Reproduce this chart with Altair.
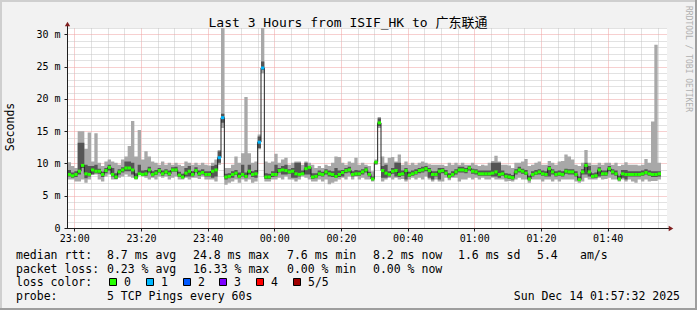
import altair as alt
import pandas as pd

# ---------------- data ----------------
# sample end time in minutes after 23:00 (one sample per minute)
minutes = list(range(-2, 177))

median_ms = [
    9.0, 8.3, 8.1, 8.3, 8.8, 9.7, 8.4, 8.3, 9.0, 8.8,
    8.8, 8.3, 8.9, 9.4, 8.3, 7.9, 8.7, 9.0, 9.3, 9.3,
    9.0, 7.8, 8.4, 8.3, 8.4, 9.0, 8.3, 8.5, 8.9, 8.4,
    8.7, 8.4, 9.0, 9.0, 8.2, 7.9, 8.5, 8.8, 8.3, 8.9,
    8.4, 8.6, 8.3, 8.3, 8.8, 9.0, 10.9, 17.1, 7.9, 8.0,
    8.3, 8.5, 8.0, 8.3, 8.0, 8.8, 8.3, 8.4, 13.3, 24.8,
    7.9, 7.9, 8.3, 8.3, 8.9, 9.0, 8.9, 8.7, 8.8, 8.4,
    8.3, 8.4, 9.2, 9.4, 7.9, 8.0, 8.4, 8.3, 8.7, 8.4,
    8.3, 8.0, 8.3, 8.6, 8.9, 9.0, 8.3, 8.4, 8.4, 8.7,
    9.0, 8.3, 7.6, 10.2, 16.3, 8.9, 8.5, 8.3, 8.8, 8.9,
    8.3, 8.4, 8.9, 8.2, 8.4, 8.6, 8.9, 9.0, 9.2, 8.9,
    8.3, 8.3, 8.8, 8.9, 8.5, 8.0, 8.3, 8.7, 9.0, 9.0,
    8.9, 9.3, 8.8, 8.7, 8.4, 8.4, 8.4, 8.4, 8.5, 8.7,
    8.3, 8.4, 8.0, 7.9, 7.8, 8.7, 9.0, 8.8, 8.5, 7.6,
    8.3, 8.5, 8.7, 8.4, 8.3, 9.2, 8.7, 8.3, 8.4, 8.3,
    8.8, 8.7, 8.7, 8.3, 7.5, 8.7, 9.7, 8.7, 8.0, 8.1,
    9.0, 8.4, 8.4, 9.2, 8.7, 8.4, 7.6, 8.4, 8.3, 8.3,
    8.3, 8.3, 8.3, 8.4, 8.6, 8.4, 8.3, 8.3, 8.4,
]

ping_min = [
    7.5, 7.5, 7.5, 7.2, 7.2, 7.5, 7.0, 7.5, 8.3, 8.3,
    7.5, 7.2, 8.0, 8.3, 7.5, 7.5, 7.8, 8.0, 8.3, 8.0,
    7.8, 7.5, 8.3, 8.0, 7.8, 7.5, 7.8, 7.5, 8.0, 7.8,
    8.0, 7.5, 7.8, 8.0, 7.5, 7.5, 7.8, 7.5, 7.8, 7.8,
    7.6, 8.0, 7.5, 7.5, 7.5, 7.2, 9.8, 15.5, 6.7, 7.0,
    7.2, 7.5, 7.0, 7.5, 7.2, 7.5, 7.0, 7.2, 12.2, 24.0,
    7.2, 7.2, 7.5, 7.5, 7.8, 7.5, 8.0, 7.5, 7.5, 7.2,
    7.5, 8.0, 7.8, 7.5, 7.2, 7.2, 7.5, 7.2, 7.5, 6.8,
    7.0, 7.2, 7.5, 7.8, 7.5, 8.0, 7.5, 8.0, 7.5, 7.8,
    7.5, 7.5, 7.2, 9.8, 15.5, 7.2, 7.5, 7.8, 7.5, 7.8,
    7.5, 7.6, 7.2, 7.5, 7.8, 7.5, 7.8, 7.5, 8.0, 7.5,
    7.2, 7.5, 7.2, 7.2, 7.8, 7.4, 7.8, 7.8, 7.2, 7.5,
    7.5, 7.8, 7.5, 7.8, 7.5, 7.8, 7.5, 7.5, 7.8, 7.5,
    7.5, 7.5, 7.2, 7.3, 7.2, 7.5, 7.8, 7.5, 7.5, 7.0,
    7.5, 7.5, 7.5, 7.2, 7.5, 7.5, 7.2, 7.5, 7.2, 7.5,
    7.5, 7.5, 7.5, 7.2, 7.0, 7.2, 7.8, 7.5, 7.5, 7.5,
    7.8, 7.5, 7.6, 7.8, 7.5, 7.5, 7.2, 7.5, 7.2, 7.5,
    7.2, 7.0, 7.5, 7.2, 7.5, 7.2, 7.3, 7.3, 7.5,
]

ping_max = [
    10.6, 10.2, 9.6, 9.3, 15.0, 15.0, 12.3, 14.8, 10.3, 14.7,
    10.1, 9.6, 10.3, 10.6, 10.3, 10.1, 9.8, 10.6, 11.1, 12.7,
    16.6, 11.1, 15.2, 10.6, 11.9, 11.1, 10.3, 10.1, 9.8, 10.3,
    9.8, 10.1, 9.8, 10.1, 9.8, 9.6, 10.3, 10.1, 9.8, 10.1,
    9.8, 10.1, 9.8, 9.7, 10.1, 10.6, 12.1, 35.0, 9.3, 9.3,
    9.8, 11.1, 10.1, 11.6, 20.3, 11.6, 10.1, 10.3, 14.5, 35.0,
    10.3, 10.1, 10.3, 11.5, 10.1, 10.6, 10.9, 9.8, 10.1, 10.3,
    10.3, 9.8, 10.3, 10.1, 9.8, 9.3, 9.6, 9.3, 9.8, 9.6,
    10.1, 11.1, 11.0, 10.1, 9.8, 10.3, 10.1, 10.9, 9.8, 10.1,
    9.8, 9.6, 8.8, 10.6, 17.2, 11.1, 10.1, 10.9, 11.0, 10.3,
    11.4, 9.8, 10.3, 9.8, 10.1, 9.8, 10.1, 10.3, 10.1, 9.9,
    9.8, 9.8, 9.8, 9.8, 9.6, 10.1, 9.8, 10.1, 9.8, 10.1,
    9.8, 9.8, 10.1, 9.8, 9.6, 9.8, 9.7, 10.1, 10.4, 11.2,
    10.3, 9.8, 9.8, 9.7, 9.3, 10.1, 10.1, 10.3, 10.7, 9.6,
    9.8, 10.1, 10.3, 9.8, 9.8, 10.4, 10.1, 9.8, 10.3, 10.4,
    11.4, 11.1, 10.6, 9.8, 9.6, 10.1, 12.1, 10.1, 9.8, 9.8,
    10.1, 9.8, 10.1, 10.1, 9.8, 10.1, 9.6, 9.8, 10.2, 9.8,
    9.8, 9.8, 9.7, 9.8, 10.7, 10.1, 16.5, 28.4, 10.1,
]

ping_p2 = [
    8.6, 8.0, 7.8, 7.9, 8.3, 9.3, 7.7, 8.0, 8.3, 8.5,
    8.4, 7.9, 8.5, 8.9, 8.0, 7.6, 8.3, 8.6, 8.8, 8.8,
    8.3, 7.6, 8.3, 8.1, 8.1, 8.6, 8.0, 8.2, 8.6, 8.1,
    8.4, 8.1, 8.7, 8.7, 7.9, 7.7, 8.0, 8.0, 8.0, 8.6,
    8.1, 8.3, 8.0, 8.0, 7.8, 8.0, 10.1, 16.3, 7.5, 7.7,
    7.8, 8.2, 7.7, 8.0, 7.7, 8.3, 7.9, 7.8, 12.4, 24.5,
    7.6, 7.6, 7.9, 8.0, 8.6, 8.3, 8.3, 8.4, 7.8, 7.8,
    8.0, 8.2, 8.3, 8.3, 7.6, 7.7, 8.1, 8.0, 8.3, 8.0,
    7.9, 7.8, 7.9, 8.0, 8.5, 8.6, 8.0, 8.1, 8.1, 8.3,
    8.6, 8.0, 7.4, 9.9, 15.8, 7.8, 7.8, 8.0, 8.4, 8.0,
    7.9, 8.1, 7.5, 7.9, 8.1, 8.3, 8.5, 8.6, 8.8, 7.8,
    7.5, 8.0, 7.5, 8.5, 8.2, 7.7, 8.0, 8.3, 8.6, 8.6,
    8.5, 8.9, 8.4, 8.3, 8.1, 8.1, 8.1, 8.1, 8.0, 8.0,
    7.8, 8.1, 7.7, 7.6, 7.5, 8.3, 8.6, 8.4, 8.2, 7.4,
    8.0, 8.2, 8.3, 8.1, 8.0, 8.0, 8.3, 8.0, 8.1, 8.0,
    8.4, 8.3, 8.3, 8.0, 7.3, 8.3, 8.3, 8.0, 7.7, 7.8,
    8.0, 8.1, 8.1, 8.8, 8.3, 8.1, 7.4, 7.8, 7.5, 8.0,
    8.0, 8.0, 8.0, 8.1, 8.3, 8.1, 7.9, 7.9, 8.0,
]

ping_p4 = [
    9.4, 9.0, 8.6, 8.8, 13.2, 13.2, 9.8, 9.6, 9.6, 9.8,
    9.2, 8.7, 9.3, 9.8, 9.3, 8.5, 9.1, 9.4, 10.3, 10.3,
    10.1, 8.5, 9.8, 8.9, 9.0, 9.5, 8.8, 9.0, 9.3, 8.9,
    9.1, 8.9, 9.4, 9.5, 8.7, 8.4, 9.3, 9.6, 8.8, 9.4,
    8.9, 9.1, 8.8, 8.8, 9.6, 9.8, 11.9, 17.7, 8.4, 8.5,
    8.8, 9.0, 8.6, 9.8, 8.6, 9.8, 8.8, 9.0, 14.2, 25.8,
    8.5, 8.4, 8.8, 9.8, 9.3, 9.6, 9.8, 9.1, 9.3, 10.1,
    10.1, 8.9, 10.1, 9.6, 8.5, 8.5, 8.9, 8.7, 9.1, 8.9,
    8.8, 9.3, 8.9, 9.0, 9.3, 9.5, 8.8, 9.0, 8.9, 9.1,
    9.4, 8.7, 8.0, 10.4, 17.0, 9.6, 9.8, 8.8, 9.3, 10.1,
    10.1, 8.9, 9.3, 8.7, 8.9, 9.1, 9.3, 9.5, 9.6, 9.3,
    8.8, 8.8, 9.3, 9.3, 9.0, 8.5, 8.8, 9.1, 9.5, 9.5,
    9.3, 9.6, 9.2, 9.1, 8.9, 8.9, 8.9, 8.9, 10.1, 10.1,
    10.1, 8.9, 8.5, 8.4, 8.2, 9.1, 9.5, 9.2, 9.0, 8.1,
    8.8, 9.0, 9.1, 8.9, 8.8, 9.6, 9.1, 8.8, 8.9, 8.8,
    9.2, 9.1, 9.1, 8.8, 8.0, 9.1, 10.1, 9.6, 8.5, 8.6,
    9.4, 8.9, 8.9, 9.6, 9.1, 8.9, 8.1, 9.0, 9.0, 8.8,
    8.8, 8.8, 8.8, 8.9, 9.1, 8.9, 8.8, 8.8, 8.8,
]

lost_pings = [0] * 46 + [1, 1] + [0] * 10 + [1, 1] + [0] * 119

loss_labels = ["0", "1", "2", "3", "4", "5/5"]
loss_colors = ["#26ff00", "#00b8ff", "#0059ff", "#7e00ff", "#ff0000", "#a00000"]

x_major_values = [0, 20, 40, 60, 80, 100, 120, 140, 160]
x_major_labels = ["23:00", "23:20", "23:40", "00:00", "00:20", "00:40", "01:00", "01:20", "01:40"]
y_major_values = [0, 5, 10, 15, 20, 25, 30]
y_major_labels = ["0\u00a0\u00a0", "5 m", "10 m", "15 m", "20 m", "25 m", "30 m"]

title_text = "Last 3 Hours from ISIF_HK to 广东联通"
row_rtt = ["median rtt:", "8.7 ms avg", "24.8 ms max", "7.6 ms min", "8.2 ms now", "1.6 ms sd", "5.4", "am/s"]
row_loss = ["packet loss:", "0.23 % avg", "16.33 % max", "0.00 % min", "0.00 % now"]
row_color_label = "loss color:"
row_probe = ["probe:", "5 TCP Pings every 60s"]
stamp = "Sun Dec 14 01:57:32 2025"
watermark = "RRDTOOL / TOBI OETIKER"

# ---------------- tables ----------------
df = pd.DataFrame({
    "end": minutes, "med": median_ms, "lo": ping_min, "hi": ping_max,
    "p2": ping_p2, "p4": ping_p4, "loss": lost_pings,
})
df["start"] = df["end"] - 1
steps = pd.concat([df, df.tail(1).assign(start=df["end"].iloc[-1])], ignore_index=True)

FONT = "DejaVu Sans Mono"
W, H = 600, 200
xs = alt.Scale(domain=[-2.2, 177.8], nice=False, zero=False)
ys = alt.Scale(domain=[0, 31], nice=False, zero=False)
one = alt.Data(values=[{"k": 0}])

minor_x = [v for v in range(0, 180, 5) if v % 20]
minor_y = [v for v in range(0, 32) if v % 5]

lab_x = "[" + ",".join("'%s'" % s for s in x_major_labels) + "][round(datum.value/20)]"
lab_y = "[" + ",".join("'%s'" % s for s in y_major_labels) + "][round(datum.value/5)]"

outer = alt.Chart(steps).mark_area(interpolate="step-after", color="#a8a8a8", clip=True).encode(
    x=alt.X("start:Q", scale=xs, axis=alt.Axis(values=minor_x, grid=True, gridColor="#c4c4c4",
                                              gridDash=[1, 1], labels=False, ticks=False,
                                              domain=False, title=None, orient="bottom")),
    y=alt.Y("lo:Q", scale=ys, axis=alt.Axis(values=minor_y, grid=True, gridColor="#c4c4c4",
                                           gridDash=[1, 1], labels=False, ticks=False,
                                           domain=False, title=None, orient="left")),
    y2="hi:Q",
)

inner = alt.Chart(steps).mark_area(interpolate="step-after", color="#555555", clip=True).encode(
    x=alt.X("start:Q", scale=xs, axis=alt.Axis(values=x_major_values, grid=True, gridColor="#eea0a0",
                                              gridDash=[1, 1], labelExpr=lab_x, labelFont=FONT,
                                              labelFontSize=10, labelColor="#000000",
                                              labelBaseline="alphabetic", labelPadding=10,
                                              ticks=True, tickSize=3, tickColor="#1f1f1f",
                                              domain=False, title=None, orient="bottom")),
    y=alt.Y("p2:Q", scale=ys, axis=alt.Axis(values=y_major_values, grid=True, gridColor="#eea0a0",
                                           gridDash=[1, 1], labelExpr=lab_y, labelFont=FONT,
                                           labelFontSize=10, labelColor="#000000",
                                           labelPadding=4, ticks=True, tickSize=3,
                                           tickColor="#1f1f1f", domain=False, title=None,
                                           orient="left")),
    y2="p4:Q",
)

med_line = alt.Chart(steps).mark_line(interpolate="step-after", color="#202020", strokeWidth=1, clip=True).encode(
    x=alt.X("start:Q", scale=xs, axis=None),
    y=alt.Y("med:Q", scale=ys, axis=None),
)

med_mark = alt.Chart(df).mark_rule(strokeWidth=3, strokeCap="butt", clip=True).encode(
    x=alt.X("start:Q", scale=xs, axis=None),
    x2="end:Q",
    y=alt.Y("med:Q", scale=ys, axis=None),
    color=alt.Color("loss:O", scale=alt.Scale(domain=[0, 1, 2, 3, 4, 5], range=loss_colors), legend=None),
)

layers = [outer, inner, med_line, med_mark]


def hrule(x1, x2, y, color, w=1):
    return alt.Chart(one).mark_rule(color=color, strokeWidth=w).encode(
        x=alt.value(x1), x2=alt.value(x2), y=alt.value(y))


def vrule(x, y1, y2, color, w=1):
    return alt.Chart(one).mark_rule(color=color, strokeWidth=w).encode(
        x=alt.value(x), y=alt.value(y1), y2=alt.value(y2))


def txt(s, x, y, size=11.5, align="left", angle=0, color="#000000", baseline="alphabetic", font=FONT):
    return alt.Chart(one).mark_text(text=s, align=align, baseline=baseline, font=font,
                                    fontSize=size, color=color, angle=angle).encode(
        x=alt.value(x), y=alt.value(y))


# axis lines and arrows
layers.append(hrule(0, 603, 200.5, "#1f1f1f"))
layers.append(vrule(0.5, 200, -3, "#1f1f1f"))
layers.append(alt.Chart(one).mark_point(shape="triangle-up", filled=True, size=28, color="#801f1f", opacity=1).encode(
    x=alt.value(0.5), y=alt.value(-4)))
layers.append(alt.Chart(one).mark_point(shape="triangle-right", filled=True, size=28, color="#801f1f", opacity=1).encode(
    x=alt.value(604), y=alt.value(200.5)))

# title, axis title, watermark
layers.append(txt(title_text, 281, -1.5, size=13, align="center",
                  font="DejaVu Sans Mono, Noto Sans CJK SC"))
layers.append(txt("Seconds", -56, 99, size=11.5, align="center", angle=270, baseline="middle"))
layers.append(txt(watermark, 621, 31, size=8, align="center", angle=90, baseline="middle", color="#b0b0b0"))

# legend rows
r1_x = [-51, 40, 126, 220, 306, 391, 470, 513]
for s, x in zip(row_rtt, r1_x):
    layers.append(txt(s, x, 231))
r2_x = [-51, 40, 126, 220, 306]
for s, x in zip(row_loss, r2_x):
    layers.append(txt(s, x, 244.5))
layers.append(txt(row_color_label, -51, 258))
box_x = [42, 79, 116, 152, 189, 226]
for lab, col, bx in zip(loss_labels, loss_colors, box_x):
    layers.append(alt.Chart(one).mark_rect(fill=col, stroke="#000000", strokeWidth=1).encode(
        x=alt.value(bx + 0.5), x2=alt.value(bx + 7.5), y=alt.value(250.5), y2=alt.value(257.5)))
    layers.append(txt(lab, bx + 15, 258))
layers.append(txt(row_probe[0], -51, 271.5))
layers.append(txt(row_probe[1], 40, 271.5))
layers.append(txt(stamp, 613, 271.5, align="right"))

# 3D frame (rrdtool shade A / shade B)
layers.append(hrule(-67, 630, -27, "#cfcfcf", 2))
layers.append(vrule(-66, -28, 282, "#cfcfcf", 2))
layers.append(hrule(-67, 630, 281, "#9e9e9e", 2))
layers.append(vrule(629, -28, 282, "#9e9e9e", 2))

chart = alt.layer(*layers).resolve_axis(x="independent", y="independent").properties(
    width=W, height=H,
    autosize=alt.AutoSizeParams(type="none"),
    padding={"left": 67, "top": 28, "right": 30, "bottom": 82},
    background="#f2f2f2",
).configure_view(stroke=None, fill="#ffffff")

chart.save("out.html", embed_options={"renderer": "svg", "actions": False})
